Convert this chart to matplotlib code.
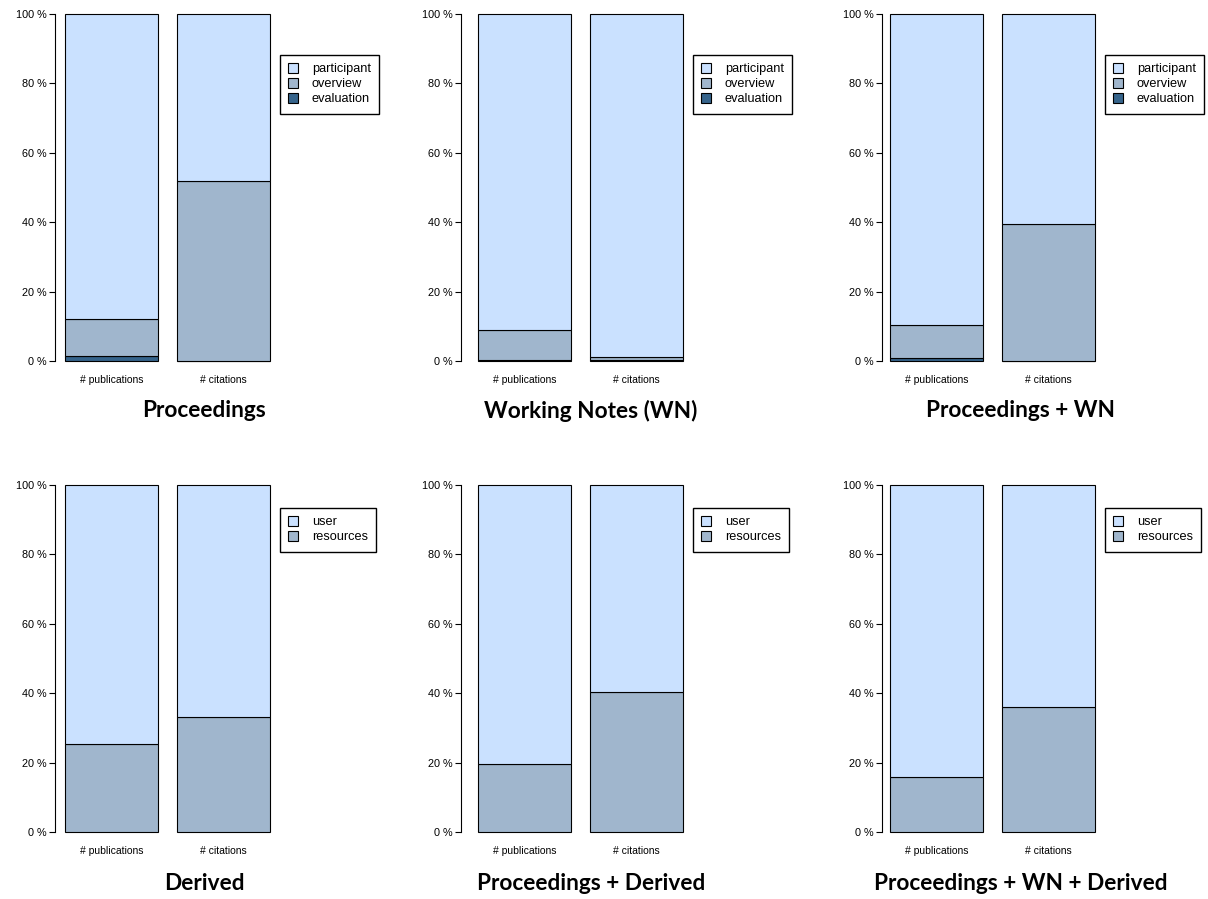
import matplotlib.pyplot as plt
from matplotlib.patches import Patch

# Anteile (in %) je Kategorie: # publications, # citations
categories = ['# publications', '# citations']

top_titles = ['Proceedings', 'Working Notes (WN)', 'Proceedings + WN']
evaluation = [[1.5, 0.1], [0.4, 0.3], [1.0, 0.1]]
overview = [[10.6, 51.9], [8.6, 0.8], [9.4, 39.3]]

bottom_titles = ['Derived', 'Proceedings + Derived', 'Proceedings + WN + Derived']
resources = [[25.5, 33.0], [19.5, 40.4], [15.8, 36.0]]

col_light = '#CAE1FF'
col_mid = '#A0B6CD'
col_dark = '#36648B'

W, H = 1208, 899
fig = plt.figure(figsize=(W / 100, H / 100), dpi=100)

label_font = 'Liberation Sans'
title_font = 'Lato'

# Position der Balken je Spalte (Pixel)
bar_left = [65, 478, 890]
axis_gap = [10, 17, 8]
title_x = [204, 591, 1021]
px_unit = 93.0
x_pos = [0.7, 1.9]


def make_axes(col, y0_px, y100_px):
    ax_x = bar_left[col] - axis_gap[col]
    right = bar_left[col] + 2.2 * px_unit + 6
    ax = fig.add_axes([ax_x / W, 1 - y0_px / H, (right - ax_x) / W, (y0_px - y100_px) / H])
    ax.set_xlim(0.2 - axis_gap[col] / px_unit, 2.4 + 6 / px_unit)
    ax.set_ylim(0, 100)
    for s in ['top', 'right', 'bottom']:
        ax.spines[s].set_visible(False)
    ax.spines['left'].set_linewidth(0.8)
    ax.spines['left'].set_bounds(0, 100)
    ax.set_yticks([0, 20, 40, 60, 80, 100])
    ax.set_yticklabels([f'{v} %' for v in [0, 20, 40, 60, 80, 100]],
                       fontsize=7.8, family=label_font)
    ax.tick_params(axis='y', length=4, width=0.8, pad=2)
    ax.set_xticks(x_pos)
    ax.set_xticklabels(categories, fontsize=7.5, family=label_font)
    ax.tick_params(axis='x', length=0, pad=10)
    return ax


def add_legend(ax, col, y_top, labels, colors):
    handles = [Patch(facecolor=c, edgecolor='black', linewidth=0.8) for c in colors]
    x = (bar_left[col] + 215) / W
    fig.legend(handles, labels, loc='upper left', bbox_to_anchor=(x, 1 - y_top / H),
               frameon=True, fancybox=False, edgecolor='black', framealpha=1,
               prop={'family': label_font, 'size': 9.2},
               handlelength=0.75, handleheight=0.75, handletextpad=1.1,
               labelspacing=0.22, borderpad=0.65, borderaxespad=0)


# obere Reihe: participant / overview / evaluation
for i in range(3):
    ax = make_axes(i, 361, 14)
    ev = evaluation[i]
    ov = overview[i]
    pa = [100 - ev[k] - ov[k] for k in range(2)]
    kw = dict(width=1.0, edgecolor='black', linewidth=0.8, clip_on=False)
    ax.bar(x_pos, ev, color=col_dark, **kw)
    ax.bar(x_pos, ov, bottom=ev, color=col_mid, **kw)
    ax.bar(x_pos, pa, bottom=[ev[k] + ov[k] for k in range(2)], color=col_light, **kw)
    add_legend(ax, i, 55, ['participant', 'overview', 'evaluation'],
               [col_light, col_mid, col_dark])
    fig.text(title_x[i] / W, 1 - 411 / H, top_titles[i], ha='center', va='center',
             fontsize=16.3, fontweight='bold', family=title_font)

# untere Reihe: user / resources
for i in range(3):
    ax = make_axes(i, 832, 485)
    rs = resources[i]
    us = [100 - r for r in rs]
    kw = dict(width=1.0, edgecolor='black', linewidth=0.8, clip_on=False)
    ax.bar(x_pos, rs, color=col_mid, **kw)
    ax.bar(x_pos, us, bottom=rs, color=col_light, **kw)
    add_legend(ax, i, 508, ['user', 'resources'], [col_light, col_mid])
    fig.text(title_x[i] / W, 1 - 884 / H, bottom_titles[i], ha='center', va='center',
             fontsize=16.3, fontweight='bold', family=title_font)

fig.savefig('out.png', dpi=100)
